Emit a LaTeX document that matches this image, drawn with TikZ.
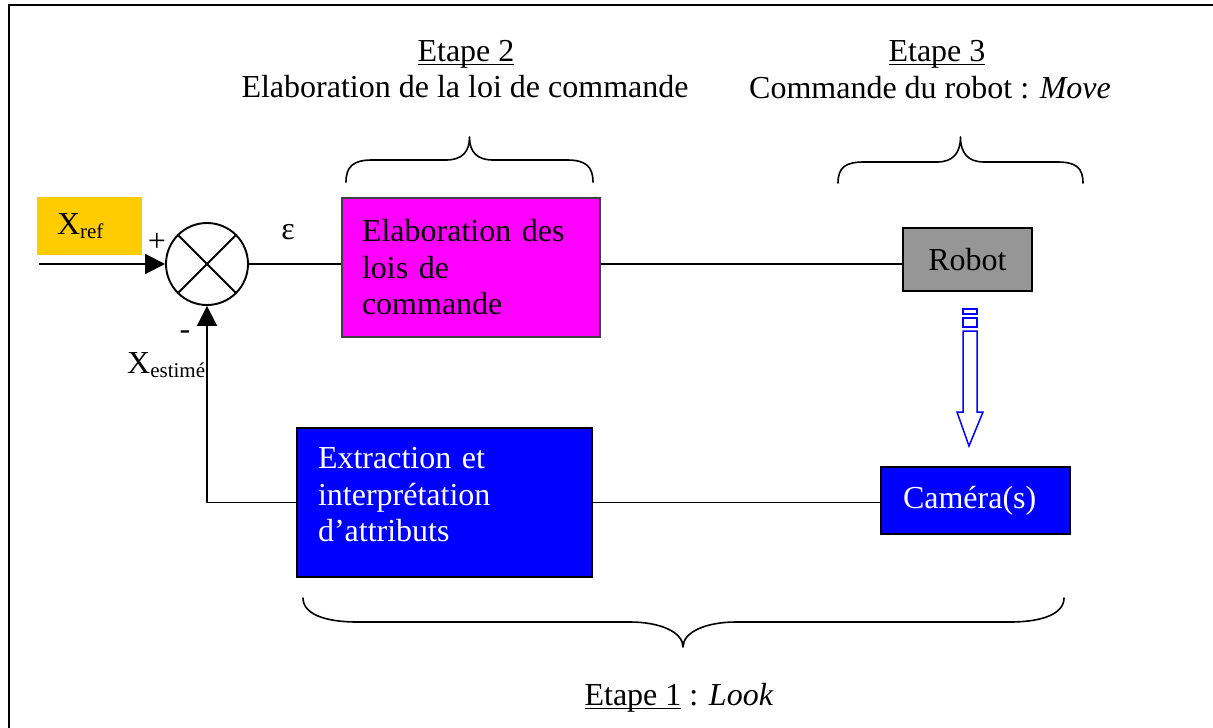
\documentclass[tikz,border=0pt]{standalone}
\usepackage{fontspec}
\setmainfont{Liberation Serif}
\usetikzlibrary{arrows.meta}
\definecolor{refyellow}{HTML}{FFCC00}
\definecolor{lawmagenta}{HTML}{FF00FF}
\definecolor{robotgray}{HTML}{969696}
\definecolor{camblue}{HTML}{0000FF}
% underline drawn just under the baseline
\newsavebox\ulbox
\newcommand\ulword[1]{\sbox\ulbox{#1}\rlap{\rule[-4.3pt]{\wd\ulbox}{1.6pt}}\usebox\ulbox}
% lowered small index after a capital
\newcommand\lowsub[1]{\raisebox{-4.5pt}{\fontsize{21}{21}\selectfont #1}}
\begin{document}
\begin{tikzpicture}[x=1pt,y=-1pt,
  txt/.style={font=\fontsize{32}{36.5}\selectfont, inner sep=0pt},
  wire/.style={line width=1.9pt},
  arrowhd/.style={-{Triangle[length=20pt,width=20pt]}},
  blockbox/.style={txt, draw=black, line width=1.8pt},
  bracecurve/.style={line width=1.6pt, line join=round, line cap=round},
  hollow/.style={draw=camblue, line width=1.5pt, fill=white}]
\useasboundingbox (0,0) rectangle (1213,728);
% frame
\draw[line width=2pt] (9,728) -- (9,5) -- (1213,5);

% blocks
\node[txt, fill=refyellow, minimum width=105pt, minimum height=58pt,
      text width=65pt, inner xsep=20pt, align=left] (xref) at (89.5,226) {X\lowsub{ref}};
\node[draw, circle, wire, minimum size=82pt, inner sep=0pt] (sum) at (207,264) {};
\draw[wire] (sum.north west) -- (sum.south east) (sum.north east) -- (sum.south west);

\node[blockbox, draw=black!75, fill=lawmagenta, minimum width=258pt, minimum height=139pt,
      text width=218pt, inner xsep=20pt, align=left] (ctrl) at (471,267.5)
      {Elaboration des\\lois de\\commande};
\node[blockbox, fill=robotgray, minimum width=129pt, minimum height=63pt] (robot) at (967.5,259.5) {Robot};
\node[blockbox, fill=camblue, text=white, minimum width=189pt, minimum height=67pt,
      text width=145pt, inner xsep=22pt, align=left] (cam) at (975.5,500.5) {Caméra(s)};
\node[blockbox, fill=camblue, text=white, minimum width=295pt, minimum height=149pt,
      text width=253pt, inner xsep=21pt, align=left] (extr) at (444.5,502.5)
      {Extraction et\\interprétation\\d’attributs\\[-21pt]\mbox{}};

% signal lines
\coordinate (in) at (39,264);
\draw[wire, arrowhd] (in) -- (sum.west);
\draw[wire] (sum.east) -- (sum.east -| ctrl.west);
\draw[wire] (ctrl.east |- sum.center) -- (robot.west |- sum.center);
\draw[wire] (extr.east) -- (extr.east -| cam.west);
\draw[wire, arrowhd] (extr.west) -| (sum.south);

% hollow arrow from the robot down to the camera
\filldraw[hollow] (963,309) rectangle (977,314);
\filldraw[hollow] (963,318) rectangle (977,327);
\filldraw[hollow] (963,331) -- (977,331) -- (977,412) -- (983,412) -- (969,446)
      -- (957,412) -- (963,412) -- cycle;

% signs and signal names
\node[txt] (plus) at (157,242) {+};
\node[txt] (eps) at (288,232) {ε};
\node[txt] (minus) at (185,335) {-};
\node[txt, anchor=base west] (xest) at (127,373) {X\lowsub{estimé}};

% stage headings
\node[txt, anchor=base] (s2a) at (466,61) {\ulword{Etape 2}};
\node[txt, anchor=base] (s2b) at (465,97) {Elaboration de la loi de commande};
\node[txt, anchor=base] (s3a) at (937,61) {\ulword{Etape 3}};
\node[txt, anchor=base] (s3b) at (930,98) {Commande du robot : \textit{Move}};
\node[txt, anchor=base] (s1) at (679,705) {\ulword{Etape 1} : \textit{Look}};

% braces
\draw[bracecurve] (346,182) .. controls (346,166) and (354,160) .. (372,160) -- (446,160)
  .. controls (462,160) and (469.5,152) .. (469.5,137)
  .. controls (469.5,152) and (477,160) .. (493,160) -- (567,160)
  .. controls (585,160) and (593,166) .. (593,182);
\draw[bracecurve] (838,183) .. controls (838,167) and (846,162) .. (864,162) -- (937,162)
  .. controls (953,162) and (960.5,153) .. (960.5,137)
  .. controls (960.5,153) and (968,162) .. (984,162) -- (1057,162)
  .. controls (1075,162) and (1083,167) .. (1083,183);
\draw[bracecurve] (303,598) .. controls (303,614) and (325,622) .. (357,622) -- (630,622)
  .. controls (660,622) and (683,632) .. (683,647)
  .. controls (683,632) and (706,622) .. (736,622) -- (1010,622)
  .. controls (1042,622) and (1064,614) .. (1064,598);
\end{tikzpicture}
\end{document}
